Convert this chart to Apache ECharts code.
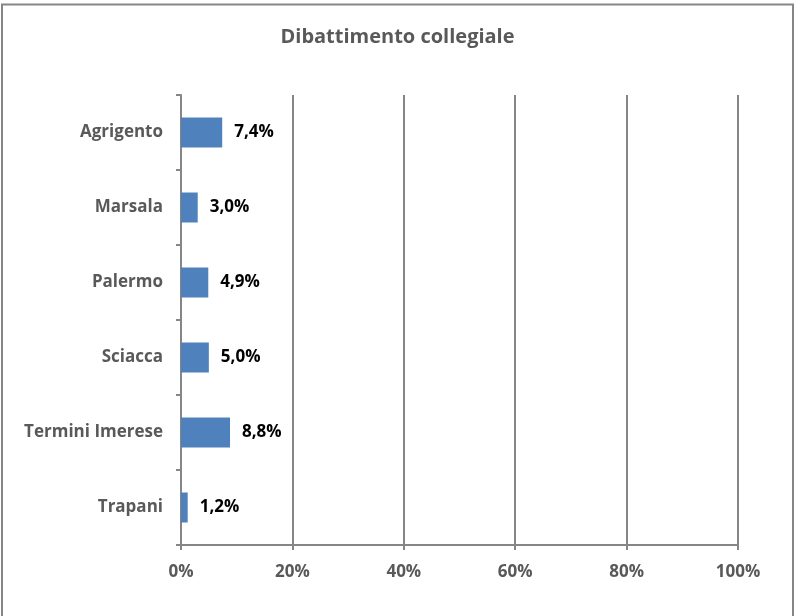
<!DOCTYPE html>
<html>
<head>
<meta charset="utf-8">
<script src="https://cdn.jsdelivr.net/npm/echarts@6/dist/echarts.min.js"></script>
<style>
  html, body { margin: 0; padding: 0; background: #fff; }
  #chart { width: 795px; height: 616px; }
</style>
</head>
<body>
<div id="chart"></div>
<script>
// Share of cases going to collegiate trial, per court
const chartTitle = 'Dibattimento collegiale';
const categories = ['Agrigento', 'Marsala', 'Palermo', 'Sciacca', 'Termini Imerese', 'Trapani'];
const values = [7.4, 3.0, 4.9, 5.0, 8.8, 1.2];
const xTicks = [0, 20, 40, 60, 80, 100];

const font = '"Open Sans", Lato, sans-serif';
const grey = '#595959';
const lineGrey = '#868686';

const chart = echarts.init(document.getElementById('chart'), null, { renderer: 'canvas' });
chart.setOption({
  backgroundColor: '#fff',
  animation: false,
  title: {
    text: chartTitle,
    left: 'center',
    top: 22,
    textStyle: { fontFamily: font, fontSize: 20, fontWeight: 'bold', color: grey }
  },
  graphic: [{
    type: 'rect',
    shape: { x: 2, y: 4.5, width: 791, height: 640 },
    style: { fill: 'none', stroke: lineGrey, lineWidth: 2 },
    silent: true
  }],
  grid: { left: 181, right: 57, top: 95, bottom: 71, containLabel: false },
  xAxis: {
    type: 'value',
    min: xTicks[0],
    max: xTicks[xTicks.length - 1],
    interval: xTicks[1] - xTicks[0],
    axisLine: { show: true, lineStyle: { color: lineGrey, width: 2 } },
    axisTick: { show: true, length: 5, lineStyle: { color: lineGrey, width: 2 } },
    splitLine: { show: true, lineStyle: { color: lineGrey, width: 2 } },
    axisLabel: {
      margin: 19,
      formatter: v => v + '%',
      fontFamily: font, fontSize: 17, fontWeight: 'bold', color: grey
    }
  },
  yAxis: {
    type: 'category',
    inverse: true,
    data: categories,
    axisLine: { show: true, lineStyle: { color: lineGrey, width: 2 } },
    axisTick: { show: true, length: 5, alignWithLabel: false, lineStyle: { color: lineGrey, width: 2 } },
    axisLabel: {
      margin: 18,
      fontFamily: font, fontSize: 17, fontWeight: 'bold', color: grey
    }
  },
  series: [{
    type: 'bar',
    data: values,
    barWidth: 30,
    itemStyle: { color: '#4f81bd' },
    label: {
      show: true,
      position: 'right',
      distance: 12,
      formatter: p => p.value.toFixed(1).replace('.', ',') + '%',
      fontFamily: font, fontSize: 17, fontWeight: 'bold', color: '#000'
    }
  }]
});
</script>
</body>
</html>
